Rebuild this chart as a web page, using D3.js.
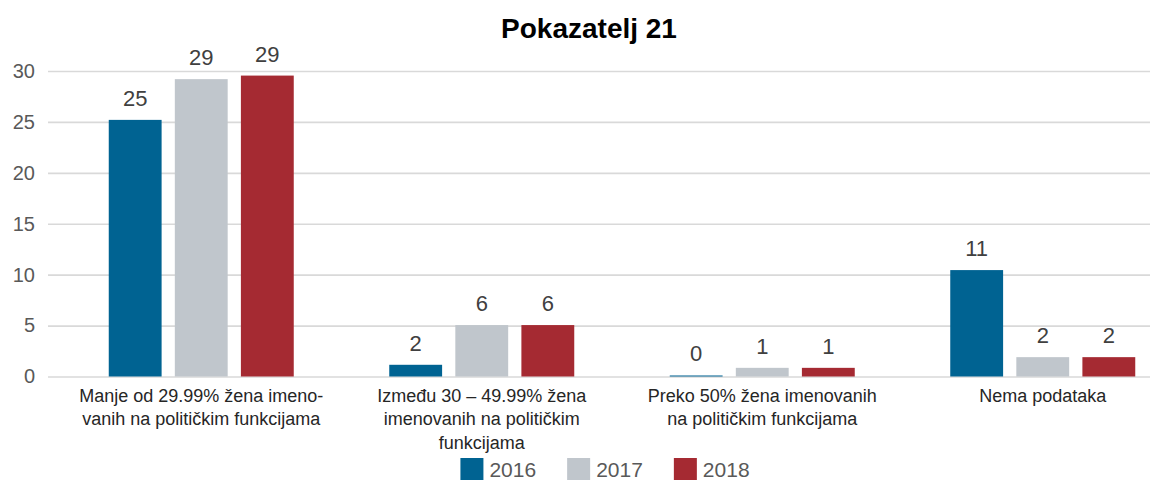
<!DOCTYPE html>
<html>
<head>
<meta charset="utf-8">
<script src="https://cdn.jsdelivr.net/npm/d3@7"></script>
<style>
  body { margin: 0; background: #fff; }
  svg { display: block; font-family: "Liberation Sans", Arial, sans-serif; }
</style>
</head>
<body>
<div id="chart"></div>
<script>
// Data
const categories = [
  ["Manje od 29.99% žena imeno-", "vanih na političkim funkcijama"],
  ["Između 30 – 49.99% žena", "imenovanih na političkim", "funkcijama"],
  ["Preko 50% žena imenovanih", "na političkim funkcijama"],
  ["Nema podataka"]
];
const years = ["2016", "2017", "2018"];
// bar heights as drawn
const values2016 = [25.2, 1.15, 0.1, 10.45];
const values2017 = [29.2, 5.05, 0.85, 1.9];
const values2018 = [29.55, 5.05, 0.85, 1.9];
// data labels as printed
const labels2016 = ["25", "2", "0", "11"];
const labels2017 = ["29", "6", "1", "2"];
const labels2018 = ["29", "6", "1", "2"];
const yTicks = [0, 5, 10, 15, 20, 25, 30];

const colors = { "2016": "#006392", "2017": "#c0c6cc", "2018": "#a52a32" };

const width = 1157, height = 484;
const plotLeft = 48, plotRight = 1150, plotTop = 71, plotBottom = 376.5;

const series = [
  { year: "2016", values: values2016, labels: labels2016 },
  { year: "2017", values: values2017, labels: labels2017 },
  { year: "2018", values: values2018, labels: labels2018 }
];

const svg = d3.select("#chart")
  .append("svg")
  .attr("width", width)
  .attr("height", height);

const y = d3.scaleLinear().domain([0, 30]).range([plotBottom, plotTop]);

const x0 = d3.scaleBand()
  .domain(d3.range(categories.length))
  .range([61, 1183]);

const x1 = d3.scaleBand()
  .domain(years)
  .range([-92.5, 92.5])
  .paddingInner(0.2);

// Title
svg.append("text")
  .attr("x", 589)
  .attr("y", 38)
  .attr("text-anchor", "middle")
  .style("font-size", "28px")
  .style("font-weight", "bold")
  .attr("fill", "#000")
  .text("Pokazatelj 21");

// Y axis with gridlines
const yAxis = svg.append("g")
  .attr("transform", `translate(${plotLeft},0)`)
  .call(d3.axisLeft(y).tickValues(yTicks).tickSize(-(plotRight - plotLeft)).tickPadding(13));

yAxis.select(".domain").remove();
yAxis.selectAll(".tick line")
  .attr("stroke", "#d9d9d9")
  .attr("stroke-width", 1.6);
yAxis.selectAll(".tick text")
  .attr("fill", "#595959")
  .style("font-size", "20px")
  .style("font-family", "Liberation Sans, Arial, sans-serif");

// Bars
const groups = svg.selectAll("g.group")
  .data(categories.map((c, i) => i))
  .enter()
  .append("g")
  .attr("class", "group")
  .attr("transform", i => `translate(${x0(i) + x0.bandwidth() / 2},0)`);

groups.selectAll("rect")
  .data(i => series.map(s => ({ year: s.year, value: s.values[i], label: s.labels[i] })))
  .enter()
  .append("rect")
  .attr("x", d => x1(d.year))
  .attr("width", x1.bandwidth())
  .attr("y", d => y(d.value))
  .attr("height", d => y(0) - y(d.value))
  .attr("fill", d => colors[d.year]);

// Data labels
groups.selectAll("text.val")
  .data(i => series.map(s => ({ year: s.year, value: s.values[i], label: s.labels[i] })))
  .enter()
  .append("text")
  .attr("class", "val")
  .attr("x", d => x1(d.year) + x1.bandwidth() / 2)
  .attr("y", d => y(d.value) - 14)
  .attr("text-anchor", "middle")
  .attr("fill", "#404040")
  .style("font-size", "22px")
  .text(d => d.label);

// Category labels
groups.append("text")
  .attr("text-anchor", "middle")
  .attr("fill", "#262626")
  .style("font-size", "18px")
  .selectAll("tspan")
  .data(i => categories[i])
  .enter()
  .append("tspan")
  .attr("x", 0)
  .attr("y", (d, j) => plotBottom + 25 + j * 23.5)
  .text(d => d);

// Legend
const legend = svg.append("g");
let lx = 0;
years.forEach(yr => {
  const item = legend.append("g").attr("transform", `translate(${lx},0)`);
  item.append("rect")
    .attr("x", 0).attr("y", 458)
    .attr("width", 23).attr("height", 22)
    .attr("fill", colors[yr]);
  const t = item.append("text")
    .attr("x", 29).attr("y", 477)
    .attr("fill", "#595959")
    .style("font-size", "21px")
    .text(yr);
  lx += 29 + t.node().getComputedTextLength() + 31;
});
const lw = lx - 31;
legend.attr("transform", `translate(${605 - lw / 2},0)`);
</script>
</body>
</html>
